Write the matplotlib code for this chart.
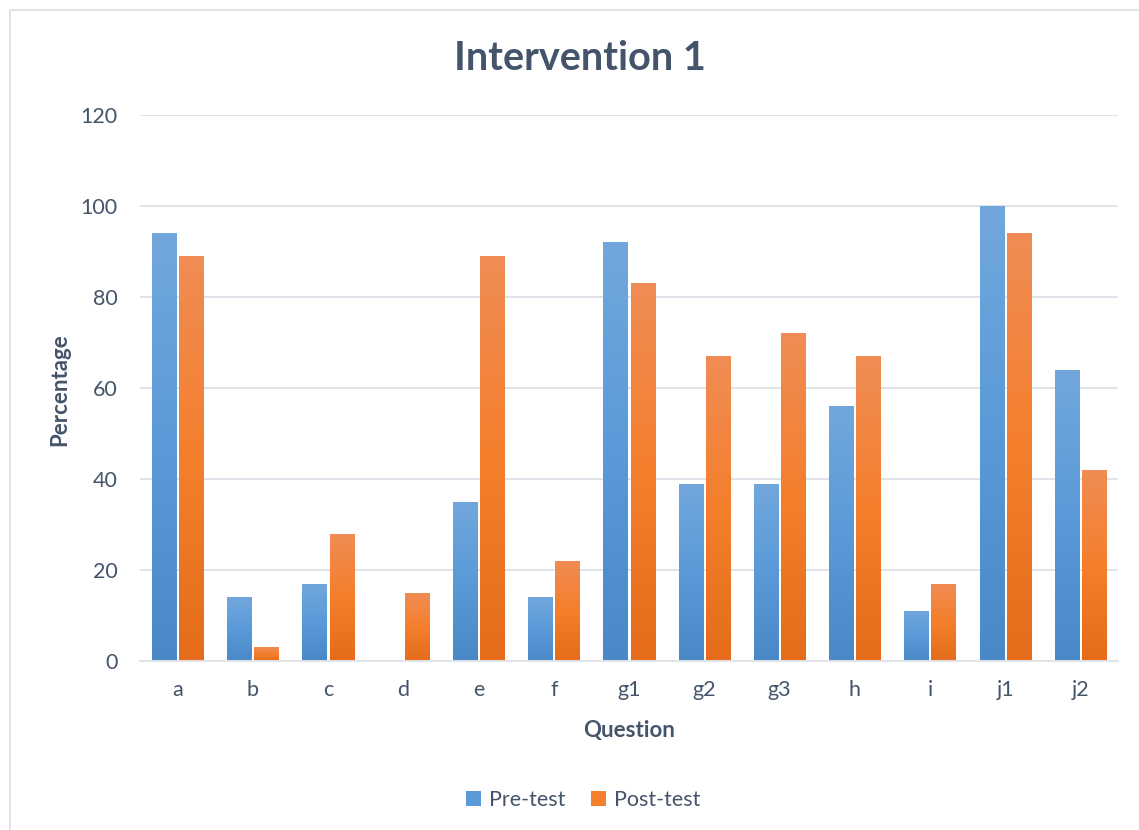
"""Pre/post test percentages per question for Intervention 1."""

import numpy as np
import matplotlib
matplotlib.use("Agg")
import matplotlib.pyplot as plt
from matplotlib.colors import LinearSegmentedColormap
from matplotlib.patches import Rectangle, Patch


questions = ["a", "b", "c", "d", "e", "f", "g1", "g2", "g3", "h", "i", "j1", "j2"]
pre_test = [94, 14, 17, 0, 35, 14, 92, 39, 39, 56, 11, 100, 64]
post_test = [89, 3, 28, 15, 89, 22, 83, 67, 72, 67, 17, 94, 42]

TEXT = "#44546a"
GRID = "#dfe3ea"

# three-stop fills, bottom -> middle -> top
blue_cmap = LinearSegmentedColormap.from_list(
    "blue_fill", ["#4a88c7", "#5a9ad8", "#72a7dd"])
orange_cmap = LinearSegmentedColormap.from_list(
    "orange_fill", ["#e46c1a", "#f47f2c", "#f08c55"])

plt.rcParams["font.family"] = ["Lato", "DejaVu Sans"]

fig = plt.figure(figsize=(11.39, 8.30), dpi=100)
ax = fig.add_axes([140 / 1139, 1 - 661 / 830, 978 / 1139, 546 / 830])

# chart area frame
fig.patches.append(Rectangle((10 / 1139, -0.01), 1.1, 1 - 10 / 830 + 0.01,
                             transform=fig.transFigure, fill=False,
                             edgecolor="#d9dee6", linewidth=1.2))

x = np.arange(len(questions))
width = 0.32
gap = 0.04
grad = np.linspace(0, 1, 256).reshape(-1, 1)


def gradient_bars(xs, heights, cmap):
    bars = ax.bar(xs, heights, width, color="none", edgecolor="none", zorder=2)
    for bar, h in zip(bars, heights):
        if h <= 0:
            continue
        x0 = bar.get_x()
        im = ax.imshow(grad, cmap=cmap, origin="lower", aspect="auto",
                       extent=[x0, x0 + bar.get_width(), 0, h], zorder=2)
        im.set_clip_path(bar)
    return bars


gradient_bars(x - (width + gap) / 2, pre_test, blue_cmap)
gradient_bars(x + (width + gap) / 2, post_test, orange_cmap)

ax.set_xlim(-0.5, len(questions) - 0.5)
ax.set_ylim(0, 120)
ax.set_yticks(range(0, 121, 20))
ax.set_xticks(x)
ax.set_xticklabels(questions)
ax.grid(axis="y", color=GRID, linewidth=1.4, zorder=0)
ax.set_axisbelow(True)
for side in ["top", "right", "left"]:
    ax.spines[side].set_visible(False)
ax.spines["bottom"].set_color(GRID)
ax.spines["bottom"].set_linewidth(1.4)
ax.tick_params(axis="both", length=0, labelsize=15.5, labelcolor=TEXT)
ax.tick_params(axis="x", pad=14)
ax.tick_params(axis="y", pad=16)

fig.text(580 / 1139, 1 - 58 / 830, "Intervention 1", ha="center", va="center",
         fontsize=28.5, fontweight="bold", color=TEXT)
fig.text(60 / 1139, 1 - 390 / 830, "Percentage", ha="center", va="center",
         rotation=90, fontsize=16, fontweight="bold", color=TEXT)
fig.text(629 / 1139, 1 - 730 / 830, "Question", ha="center", va="center",
         fontsize=16, fontweight="bold", color=TEXT)

handles = [Patch(facecolor="#5a9ad8", label="Pre-test"),
           Patch(facecolor="#f47f2c", label="Post-test")]
fig.legend(handles=handles, loc="center", bbox_to_anchor=(583 / 1139, 1 - 800 / 830),
           ncol=2, frameon=False, fontsize=15.5, labelcolor=TEXT,
           handlelength=0.7, handleheight=0.7, handletextpad=0.35, columnspacing=1.2)

fig.savefig("out.png", dpi=100, facecolor="white")
